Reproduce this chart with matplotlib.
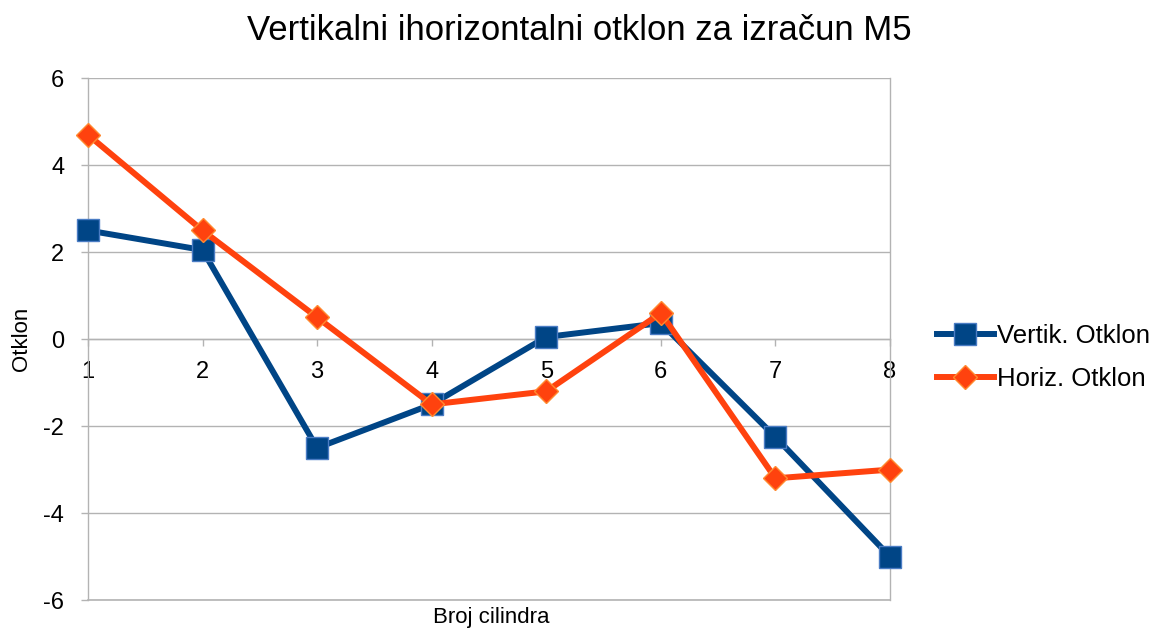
import matplotlib.pyplot as plt

plt.rcParams['font.family'] = ['Liberation Sans', 'DejaVu Sans']
plt.rcParams['axes.unicode_minus'] = False

# cylinder numbers and measured deviations
cylinders = [1, 2, 3, 4, 5, 6, 7, 8]
vertik = [2.5, 2.05, -2.5, -1.5, 0.05, 0.37, -2.25, -5.0]
horiz = [4.7, 2.5, 0.5, -1.5, -1.2, 0.6, -3.2, -3.0]
y_ticks = [-6, -4, -2, 0, 2, 4, 6]

BLUE = '#004586'
ORANGE = '#ff420e'
GRID = '#b3b3b3'

fig = plt.figure(figsize=(11.59, 6.31), dpi=100)
ax = fig.add_axes([0.0759, 0.049, 0.692, 0.827])

ax.plot(cylinders, vertik, color=BLUE, linewidth=4.3, marker='s',
        markersize=15.5, markerfacecolor=BLUE, markeredgecolor='#4a7cc4',
        markeredgewidth=1.0, label='Vertik. Otklon', zorder=3, clip_on=False)
ax.plot(cylinders, horiz, color=ORANGE, linewidth=4.3, marker='D',
        markersize=12, markerfacecolor=ORANGE, markeredgecolor='#ff8a30',
        markeredgewidth=1.0, label='Horiz. Otklon', zorder=4, clip_on=False)

ax.set_xlim(1, 8)
ax.set_ylim(-6, 6)
ax.set_yticks(y_ticks)
ax.set_xticks(cylinders)
ax.yaxis.grid(True, color=GRID, linewidth=1.0)
ax.axhline(-6, color=GRID, linewidth=1.2, zorder=1, clip_on=False)
ax.set_axisbelow(True)

# x axis drawn through zero
ax.spines['bottom'].set_position(('data', 0))
for side in ['left', 'bottom', 'right', 'top']:
    ax.spines[side].set_color(GRID)
    ax.spines[side].set_linewidth(1.0)
ax.spines['top'].set_visible(False)

ax.tick_params(axis='both', colors=GRID, labelcolor='black', labelsize=17,
               length=5, width=1.0)
ax.tick_params(axis='x', direction='out', pad=11)
ax.tick_params(axis='y', pad=12)

fig.suptitle('Vertikalni ihorizontalni otklon za izračun M5', fontsize=25,
             x=0.5, y=0.952, va='center')
ax.set_ylabel('Otklon', fontsize=16)
ax.yaxis.set_label_coords(-0.07, 0.5)
fig.text(0.4235, 0.022, 'Broj cilindra', fontsize=16, ha='center', va='center')

ax.legend(loc='center left', bbox_to_anchor=(1.0586, 0.4646), frameon=False,
          fontsize=18.5, handlelength=2.2, handletextpad=0.15, labelspacing=0.75,
          borderpad=0, borderaxespad=0)

fig.savefig('out.png', dpi=100, facecolor='white')
